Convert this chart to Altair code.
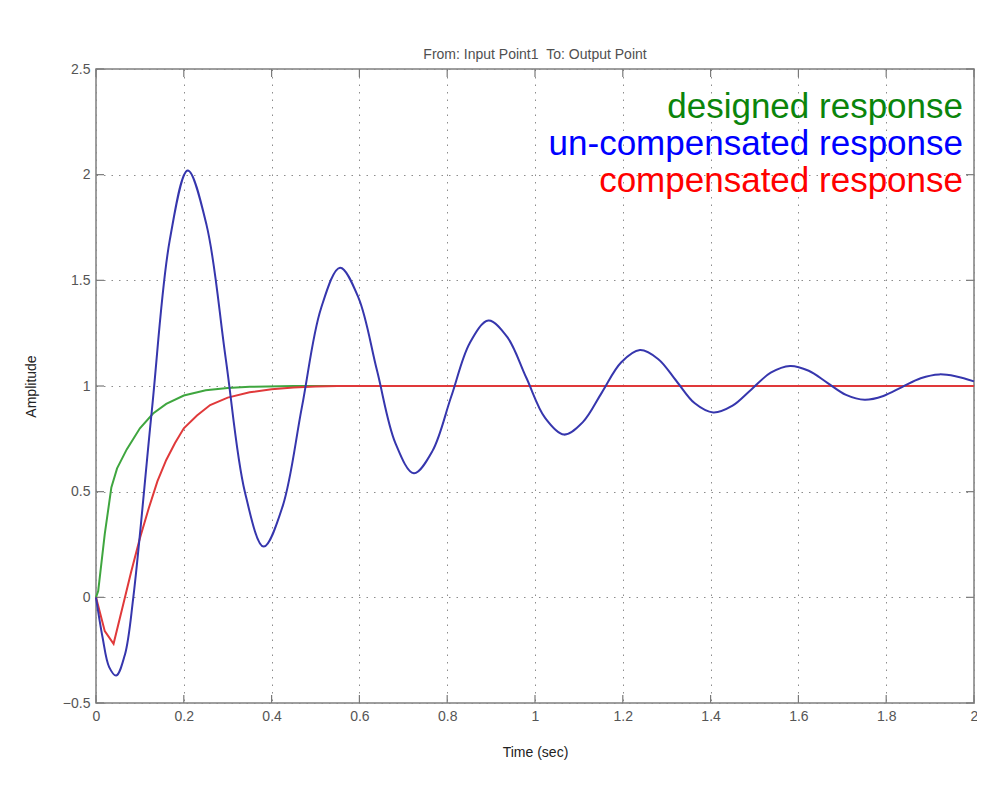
import altair as alt
import pandas as pd

# ---- data ----
blue_t = [0, 0.015, 0.03, 0.046, 0.066, 0.085, 0.127, 0.168, 0.209, 0.252, 0.2955, 0.339,
          0.382, 0.4255, 0.469, 0.5125, 0.556, 0.598, 0.640, 0.682, 0.724, 0.7665, 0.809,
          0.8515, 0.894, 0.937, 0.98, 1.023, 1.066, 1.109, 1.1525, 1.196, 1.239, 1.281,
          1.3225, 1.364, 1.406, 1.45, 1.4935, 1.537, 1.581, 1.6235, 1.666, 1.7085, 1.751,
          1.7935, 1.836, 1.8785, 1.921, 1.96, 2.0]
blue_v = [0, -0.19, -0.33, -0.37, -0.27, 0.0, 0.88, 1.69, 2.02, 1.76, 1.13, 0.50,
          0.24, 0.433, 0.90, 1.367, 1.56, 1.417, 1.074, 0.730, 0.587, 0.693, 0.949,
          1.204, 1.31, 1.231, 1.04, 0.849, 0.77, 0.829, 0.97, 1.111, 1.17, 1.127,
          1.0225, 0.918, 0.875, 0.907, 0.985, 1.063, 1.095, 1.072, 1.015, 0.958, 0.935,
          0.953, 0.995, 1.037, 1.055, 1.045, 1.022]

green_t = [0, 0.005, 0.02, 0.035, 0.048, 0.07, 0.1, 0.13, 0.16, 0.2, 0.25, 0.3, 0.35, 0.45, 0.6]
green_v = [0, 0.03, 0.3, 0.52, 0.61, 0.7, 0.8, 0.87, 0.915, 0.955, 0.98, 0.99, 0.996, 1.0, 1.0]

red_t = [0, 0.02, 0.04, 0.06, 0.08, 0.1, 0.12, 0.14, 0.16, 0.18, 0.2, 0.23, 0.26, 0.3, 0.35,
         0.4, 0.45, 0.5, 0.55, 2.0]
red_v = [0, -0.16, -0.22, -0.05, 0.12, 0.28, 0.42, 0.55, 0.65, 0.73, 0.8, 0.86, 0.91, 0.945,
         0.97, 0.985, 0.993, 0.998, 1.0, 1.0]

x_ticks = [0, 0.2, 0.4, 0.6, 0.8, 1.0, 1.2, 1.4, 1.6, 1.8, 2.0]
y_ticks = [-0.5, 0, 0.5, 1.0, 1.5, 2.0, 2.5]

labels = ["designed response", "un-compensated response", "compensated response"]
label_colors = ["#0b850b", "#0000ff", "#ff0000"]

title_text = "From: Input Point1 \u00a0To: Output Point"

# ---- chart ----
W, H = 878, 634
FONT = "Liberation Sans"
FS = 14

x_scale = alt.Scale(domain=[0, 2], nice=False, zero=False)
y_scale = alt.Scale(domain=[-0.5, 2.5], nice=False, zero=False)

x_axis = alt.Axis(title="Time (sec)", values=x_ticks, format="~g", grid=True,
                  gridDash=[1.5, 6], gridColor="#8c8c8c", gridWidth=1, domain=False,
                  ticks=False, labelColor="#555555", labelFontSize=FS, labelFont=FONT,
                  labelPadding=6, labelFlush=False, labelOverlap=False,
                  titleFont=FONT, titleFontSize=FS, titleFontWeight="normal",
                  titleColor="#222222", titlePadding=22)
y_axis = alt.Axis(title="Amplitude", values=y_ticks, format="~g", grid=True,
                  gridDash=[1.5, 6], gridColor="#8c8c8c", gridWidth=1, domain=False,
                  ticks=False, labelColor="#555555", labelFontSize=FS, labelFont=FONT,
                  labelPadding=6, labelFlush=False, labelOverlap=False,
                  titleFont=FONT, titleFontSize=FS, titleFontWeight="normal",
                  titleColor="#222222", titlePadding=24)

def xe(field):
    return alt.X(f"{field}:Q", scale=x_scale, axis=x_axis)

def ye(field):
    return alt.Y(f"{field}:Q", scale=y_scale, axis=y_axis)

df_blue = pd.DataFrame({"t": blue_t, "v": blue_v})
df_green = pd.DataFrame({"t": green_t, "v": green_v})
df_red = pd.DataFrame({"t": red_t, "v": red_v})
df_xt = pd.DataFrame({"t": x_ticks})
df_yt = pd.DataFrame({"v": y_ticks})

TICK = "#7a7a7a"
tick_len = 8
xt_bottom = alt.Chart(df_xt).mark_rule(color=TICK, strokeWidth=1.2).encode(
    x=xe("t"), y=alt.value(H), y2=alt.value(H - tick_len))
xt_top = alt.Chart(df_xt).mark_rule(color=TICK, strokeWidth=1.2).encode(
    x=xe("t"), y=alt.value(0), y2=alt.value(tick_len))
yt_left = alt.Chart(df_yt).mark_rule(color=TICK, strokeWidth=1.2).encode(
    y=ye("v"), x=alt.value(0), x2=alt.value(tick_len))
yt_right = alt.Chart(df_yt).mark_rule(color=TICK, strokeWidth=1.2).encode(
    y=ye("v"), x=alt.value(W), x2=alt.value(W - tick_len))

green = alt.Chart(df_green).mark_line(color="#3fa63f", strokeWidth=2).encode(
    x=xe("t"), y=ye("v"))
red = alt.Chart(df_red).mark_line(color="#e0393a", strokeWidth=2).encode(
    x=xe("t"), y=ye("v"))
blue = alt.Chart(df_blue).mark_line(color="#3636ad", strokeWidth=2,
                                    interpolate="catmull-rom").encode(
    x=xe("t"), y=ye("v"))

text_layers = []
baselines = [49, 86, 123]
for lab, col, yb in zip(labels, label_colors, baselines):
    text_layers.append(
        alt.Chart(pd.DataFrame({"label": [lab]})).mark_text(
            align="right", baseline="alphabetic", fontSize=35, font=FONT, color=col
        ).encode(text="label:N", x=alt.value(867), y=alt.value(yb))
    )

chart = alt.layer(
    xt_bottom, xt_top, yt_left, yt_right, green, red, blue, *text_layers
).properties(
    width=W, height=H,
    title=alt.TitleParams(title_text, fontSize=FS, fontWeight="normal", color="#505050",
                          font=FONT, offset=0, anchor="middle", frame="group"),
    autosize=alt.AutoSizeParams(type="none"),
    padding={"left": 88, "top": 61, "right": 3, "bottom": 64},
    background="white",
).configure_view(stroke="#7f7f7f", strokeWidth=1.5)

chart.save("out.html", embed_options={"renderer": "svg", "actions": False})
